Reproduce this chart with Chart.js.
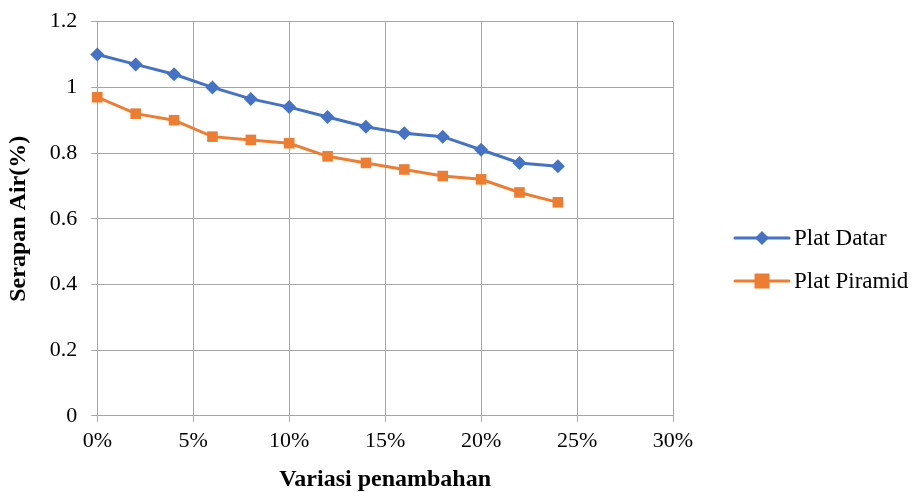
<!DOCTYPE html>
<html>
<head>
<meta charset="utf-8">
<script src="https://cdn.jsdelivr.net/npm/chart.js@4/dist/chart.umd.min.js"></script>
<style>
html,body{margin:0;padding:0;background:#fff;}
#wrap{width:915px;height:492px;position:relative;}
</style>
</head>
<body>
<div id="wrap"><canvas id="c" width="915" height="492"></canvas></div>
<script>
const variations = [0, 0.02, 0.04, 0.06, 0.08, 0.10, 0.12, 0.14, 0.16, 0.18, 0.20, 0.22, 0.24];
const platDatar = [1.10, 1.07, 1.04, 1.00, 0.965, 0.94, 0.91, 0.88, 0.86, 0.85, 0.81, 0.77, 0.76];
const platPiramid = [0.97, 0.92, 0.90, 0.85, 0.84, 0.83, 0.79, 0.77, 0.75, 0.73, 0.72, 0.68, 0.65];
const seriesNames = ['Plat Datar', 'Plat Piramid'];
const xTitle = 'Variasi penambahan';
const yTitle = 'Serapan Air(%)';

const FONT = '"Liberation Serif", "Times New Roman", serif';
const GRID = '#a6a6a6';

const toPts = (xs, ys) => xs.map((x, i) => ({x: x, y: ys[i]}));

const legendPlugin = {
  id: 'sideLegend',
  afterDraw(chart) {
    const ctx = chart.ctx;
    const ys = [238, 281];
    chart.data.datasets.forEach((ds, i) => {
      const y = ys[i];
      const x0 = 735, x1 = 789, xm = 762;
      ctx.save();
      ctx.strokeStyle = ds.borderColor;
      ctx.lineWidth = 3;
      ctx.lineCap = 'round';
      ctx.beginPath(); ctx.moveTo(x0, y); ctx.lineTo(x1, y); ctx.stroke();
      ctx.fillStyle = ds.pointBackgroundColor;
      if (ds.pointStyle === 'rectRot') {
        const r = 7;
        ctx.beginPath();
        ctx.moveTo(xm, y - r); ctx.lineTo(xm + r, y); ctx.lineTo(xm, y + r); ctx.lineTo(xm - r, y);
        ctx.closePath(); ctx.fill();
      } else {
        ctx.fillRect(xm - 7.5, y - 7.5, 15, 15);
      }
      ctx.fillStyle = '#000';
      ctx.font = '23px ' + FONT;
      ctx.textBaseline = 'middle';
      ctx.textAlign = 'left';
      ctx.fillText(ds.label, 794, y + 1);
      ctx.restore();
    });
  }
};

new Chart(document.getElementById('c'), {
  type: 'line',
  data: {
    datasets: [
      {
        label: seriesNames[0],
        data: toPts(variations, platDatar),
        borderColor: '#4472C4',
        backgroundColor: '#4472C4',
        pointBackgroundColor: '#4472C4',
        pointBorderColor: '#4472C4',
        borderWidth: 3,
        pointStyle: 'rectRot',
        pointRadius: 7,
        pointBorderWidth: 0,
        tension: 0,
        clip: false
      },
      {
        label: seriesNames[1],
        data: toPts(variations, platPiramid),
        borderColor: '#ED7D31',
        backgroundColor: '#ED7D31',
        pointBackgroundColor: '#ED7D31',
        pointBorderColor: '#ED7D31',
        borderWidth: 3,
        pointStyle: 'rect',
        pointRadius: 7.5,
        pointBorderWidth: 0,
        tension: 0,
        clip: false
      }
    ]
  },
  options: {
    responsive: false,
    animation: false,
    layout: {padding: {left: 3, right: 242, top: 0, bottom: -2}},
    plugins: {legend: {display: false}, tooltip: {enabled: false}},
    scales: {
      x: {
        type: 'linear',
        min: 0, max: 0.3,
        ticks: {
          stepSize: 0.05,
          color: '#000',
          font: {family: FONT, size: 22},
          padding: 6,
          callback: v => Math.round(v * 100) + '%'
        },
        grid: {color: GRID, lineWidth: 1, tickLength: 6},
        border: {color: GRID},
        title: {display: true, text: xTitle, color: '#000', font: {family: FONT, size: 24, weight: 'bold'}, padding: {top: 5, bottom: 0}}
      },
      y: {
        min: 0, max: 1.2,
        ticks: {
          stepSize: 0.2,
          color: '#000',
          font: {family: FONT, size: 22, lineHeight: 0.7},
          padding: 14,
          callback: v => String(Math.round(v * 10) / 10)
        },
        grid: {color: GRID, lineWidth: 1, tickLength: 6},
        border: {color: GRID},
        title: {display: true, text: yTitle, color: '#000', font: {family: FONT, size: 24, weight: 'bold'}, padding: {top: 1, bottom: 3}}
      }
    }
  },
  plugins: [legendPlugin]
});
</script>
</body>
</html>
